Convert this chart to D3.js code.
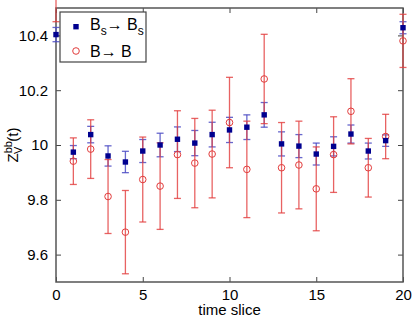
<!DOCTYPE html>
<html lang="en">
<head>
    <meta charset="UTF-8">
    <title>Z_V^bb(t)</title>
    <style>
        body { margin: 0; background: #fff; }
        svg { display: block; font-family: "Liberation Sans", Arial, sans-serif; }
    </style>
</head>
<body>
<svg></svg>
<script src="https://d3js.org/d3.v7.min.js"></script>
<script>
    // time slices
    var slices = [0, 1, 2, 3, 4, 5, 6, 7, 8, 9, 10, 11, 12, 13, 14, 15, 16, 17, 18, 19, 20];
    // Bs -> Bs
    var bsVal = [10.403, 9.974, 10.038, 9.960, 9.938, 9.978, 10.000, 10.021, 10.007, 10.038,
        10.055, 10.065, 10.110, 10.004, 9.996, 9.967, 9.995, 10.040, 9.978, 10.016, 10.428];
    var bsErr = [0.026, 0.024, 0.030, 0.037, 0.039, 0.042, 0.043, 0.045, 0.046, 0.045,
        0.046, 0.045, 0.045, 0.044, 0.042, 0.040, 0.035, 0.033, 0.029, 0.021, 0.022];
    // B -> B
    var bVal = [10.62, 9.941, 9.985, 9.812, 9.682, 9.874, 9.850, 9.965, 9.934, 9.967,
        10.082, 9.911, 10.241, 9.917, 9.927, 9.840, 9.965, 10.123, 9.917, 10.031, 10.38];
    var bErr = [0.17, 0.085, 0.107, 0.135, 0.152, 0.155, 0.158, 0.160, 0.163, 0.160,
        0.165, 0.176, 0.163, 0.165, 0.160, 0.153, 0.138, 0.119, 0.107, 0.081, 0.097];
    var xTicks = [0, 5, 10, 15, 20];
    var yTicks = [9.6, 9.8, 10, 10.2, 10.4];

    var width = 415, height = 320;
    var plotL = 56, plotR = 403, plotT = 8, plotB = 282;
    var blue = "#00008f", blueBar = "#4c4cc4", red = "#e23c3c";

    var svg = d3.select("svg").attr("width", width).attr("height", height);

    var x = d3.scaleLinear().domain([0, 20]).range([plotL, plotR]);
    var y = d3.scaleLinear().domain([9.5, 10.5]).range([plotB, plotT]);

    // axes (MATLAB box style, ticks inward)
    function styleAxis(g, labels) {
        g.select(".domain").remove();
        g.selectAll("line").attr("stroke", "#444");
        g.selectAll("text").attr("font-size", 15).attr("fill", "#000");
        if (!labels) g.selectAll("text").remove();
    }
    svg.append("g").attr("transform", "translate(0," + plotB + ")")
        .call(d3.axisBottom(x).tickValues(xTicks).tickSizeInner(-5).tickSizeOuter(0).tickPadding(7))
        .call(styleAxis, true);
    svg.append("g").attr("transform", "translate(0," + plotT + ")")
        .call(d3.axisTop(x).tickValues(xTicks).tickSizeInner(-5).tickSizeOuter(0))
        .call(styleAxis, false);
    svg.append("g").attr("transform", "translate(" + plotL + ",0)")
        .call(d3.axisLeft(y).tickValues(yTicks).tickSizeInner(-5).tickSizeOuter(0).tickPadding(8)
            .tickFormat(d3.format("~g")))
        .call(styleAxis, true);
    svg.append("g").attr("transform", "translate(" + plotR + ",0)")
        .call(d3.axisRight(y).tickValues(yTicks).tickSizeInner(-5).tickSizeOuter(0))
        .call(styleAxis, false);

    svg.append("rect")
        .attr("x", plotL).attr("y", plotT)
        .attr("width", plotR - plotL).attr("height", plotB - plotT)
        .attr("fill", "none").attr("stroke", "#555").attr("stroke-width", 1.5);

    var cap = 3.5;

    function errorBars(vals, errs, color, opacity) {
        var g = svg.append("g").attr("stroke", color).attr("stroke-width", 1.3)
            .attr("stroke-opacity", opacity).attr("fill", "none");
        var d = slices.map(function (t, i) { return {t: t, v: vals[i], e: errs[i]}; });
        g.selectAll("line.v").data(d).enter().append("line")
            .attr("x1", function (p) { return x(p.t); })
            .attr("x2", function (p) { return x(p.t); })
            .attr("y1", function (p) { return y(p.v + p.e); })
            .attr("y2", function (p) { return y(p.v - p.e); });
        g.selectAll("line.top").data(d).enter().append("line")
            .attr("x1", function (p) { return x(p.t) - cap; })
            .attr("x2", function (p) { return x(p.t) + cap; })
            .attr("y1", function (p) { return y(p.v + p.e); })
            .attr("y2", function (p) { return y(p.v + p.e); });
        g.selectAll("line.bot").data(d).enter().append("line")
            .attr("x1", function (p) { return x(p.t) - cap; })
            .attr("x2", function (p) { return x(p.t) + cap; })
            .attr("y1", function (p) { return y(p.v - p.e); })
            .attr("y2", function (p) { return y(p.v - p.e); });
    }

    errorBars(bsVal, bsErr, blueBar, 0.85);
    errorBars(bVal, bErr, red, 0.8);

    svg.append("g").selectAll("circle").data(slices).enter().append("circle")
        .attr("cx", function (t) { return x(t); })
        .attr("cy", function (t, i) { return y(bVal[i]); })
        .attr("r", 3.3)
        .attr("fill", "none").attr("stroke", red).attr("stroke-width", 1);

    svg.append("g").selectAll("rect").data(slices).enter().append("rect")
        .attr("x", function (t) { return x(t) - 2.7; })
        .attr("y", function (t, i) { return y(bsVal[i]) - 2.7; })
        .attr("width", 5.4).attr("height", 5.4)
        .attr("fill", blue);

    // legend
    var lg = svg.append("g");
    lg.append("rect").attr("x", 60).attr("y", 12).attr("width", 86).attr("height", 50)
        .attr("fill", "#fff").attr("stroke", "#444").attr("stroke-width", 1.2);
    lg.append("rect").attr("x", 73.3).attr("y", 24).attr("width", 5.4).attr("height", 5.4).attr("fill", blue);
    lg.append("circle").attr("cx", 76).attr("cy", 51).attr("r", 3.3)
        .attr("fill", "none").attr("stroke", red);
    var t1 = lg.append("text").attr("x", 90).attr("y", 30).attr("font-size", 16);
    t1.append("tspan").text("B");
    t1.append("tspan").attr("dy", 5).attr("font-size", 12).text("s");
    t1.append("tspan").attr("dy", -5).text("\u2192 B");
    t1.append("tspan").attr("dy", 5).attr("font-size", 12).text("s");
    lg.append("text").attr("x", 90).attr("y", 57).attr("font-size", 16).text("B\u2192 B");

    // axis labels
    svg.append("text").attr("x", (plotL + plotR) / 2).attr("y", 315)
        .attr("text-anchor", "middle").attr("font-size", 15).text("time slice");
    var yl = svg.append("text")
        .attr("transform", "translate(18,145) rotate(-90)")
        .attr("text-anchor", "middle").attr("font-size", 15);
    yl.append("tspan").text("Z");
    yl.append("tspan").attr("dy", -6).attr("font-size", 11).text("bb");
    yl.append("tspan").attr("dx", -13).attr("dy", 10).attr("font-size", 11).text("V");
    yl.append("tspan").attr("dx", 5).attr("dy", -4).text("(t)");
</script>
</body>
</html>
